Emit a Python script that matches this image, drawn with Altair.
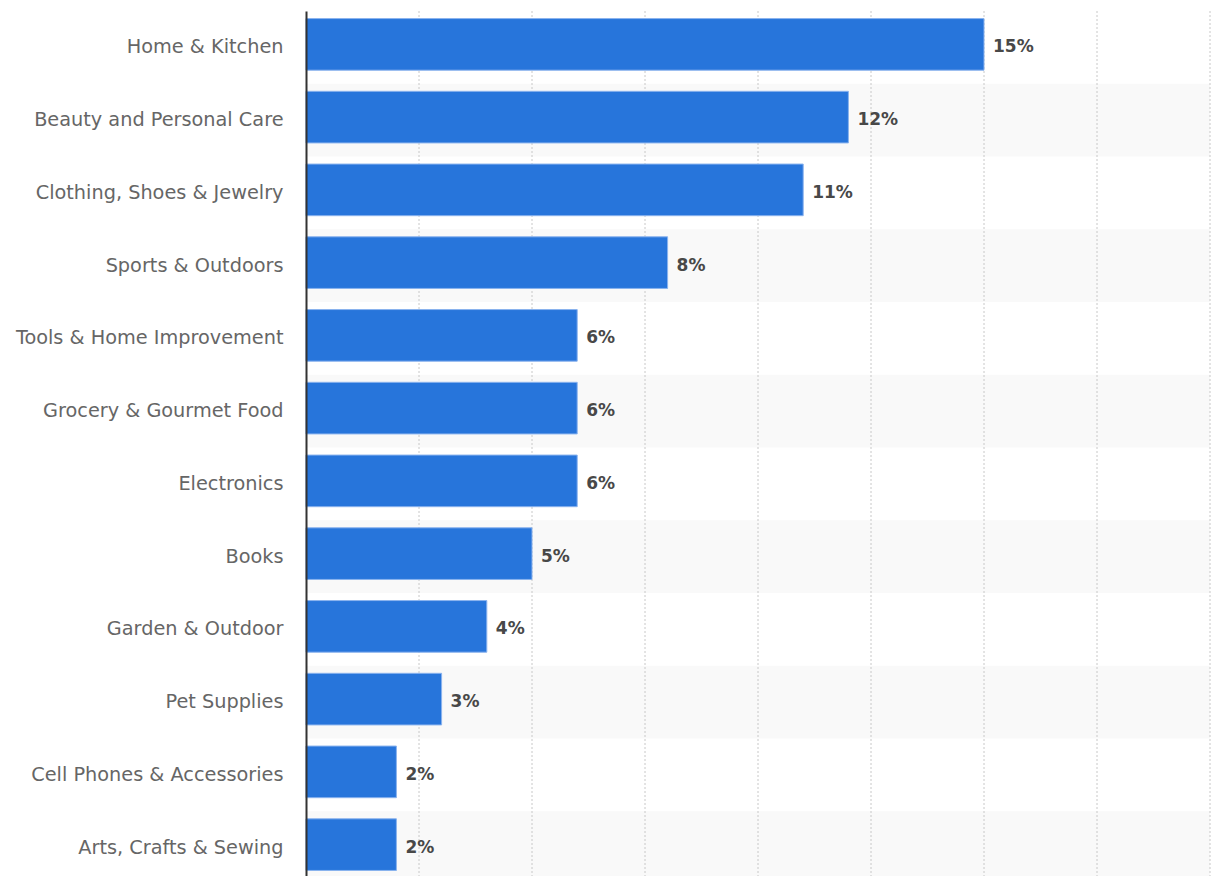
import altair as alt
import pandas as pd

categories = [
    "Home & Kitchen",
    "Beauty and Personal Care",
    "Clothing, Shoes & Jewelry",
    "Sports & Outdoors",
    "Tools & Home Improvement",
    "Grocery & Gourmet Food",
    "Electronics",
    "Books",
    "Garden & Outdoor",
    "Pet Supplies",
    "Cell Phones & Accessories",
    "Arts, Crafts & Sewing",
]
values = [15, 12, 11, 8, 6, 6, 6, 5, 4, 3, 2, 2]
grid_ticks = [2.5, 5, 7.5, 10, 12.5, 15, 17.5, 20]

df = pd.DataFrame({
    "category": categories,
    "value": values,
    "label": [f"{v}%" for v in values],
    "row": list(range(len(categories))),
})
shade_df = df[df["row"] % 2 == 1]
grid_df = pd.DataFrame({"tick": grid_ticks})

FONT = "DejaVu Sans"
xscale = alt.Scale(domain=[0, 20], nice=False, zero=True)

bands = alt.Chart(shade_df).mark_bar(color="#f9f9f9").encode(
    y=alt.Y("category:N", sort=categories,
            scale=alt.Scale(domain=categories, paddingInner=0, paddingOuter=0, range=[11, 884]),
            axis=alt.Axis(title=None, labelFontSize=19.3, labelColor="#666666", labelFont=FONT,
                          labelPadding=23, ticks=False, domain=True, domainColor="#333333",
                          domainWidth=2, zindex=1, labelLimit=400, grid=False)),
    x=alt.datum(0, scale=xscale, axis=None),
    x2=alt.datum(20),
)

grid = alt.Chart(grid_df).mark_rule(color="#c8c8c8", strokeDash=[2, 2], strokeWidth=1).encode(
    x=alt.X("tick:Q", scale=xscale, axis=None),
    y=alt.value(11),
    y2=alt.value(876),
)

ybar = alt.Y("category:N", sort=categories,
             scale=alt.Scale(domain=categories, paddingInner=0.29, paddingOuter=0.145, range=[8, 881]),
             axis=None)

bars = alt.Chart(df).mark_bar(color="#2775db", stroke="#8ab3ee", strokeWidth=1).encode(
    y=ybar,
    x=alt.X("value:Q", scale=xscale, axis=None),
)

text = alt.Chart(df).mark_text(align="left", baseline="middle", dx=9, dy=3, fontSize=17,
                               fontWeight="bold", color="#484848", font=FONT).encode(
    y=ybar,
    x=alt.X("value:Q", scale=xscale, axis=None),
    text="label:N",
)

chart = alt.layer(bands, grid, bars, text).resolve_scale(y="independent").properties(
    width=904,
    height=876,
    autosize=alt.AutoSizeParams(type="none"),
    padding={"left": 306, "top": 0, "right": 7, "bottom": 0},
    background="white",
).configure_view(stroke=None)

chart.save("out.html", embed_options={"renderer": "svg", "actions": False})
